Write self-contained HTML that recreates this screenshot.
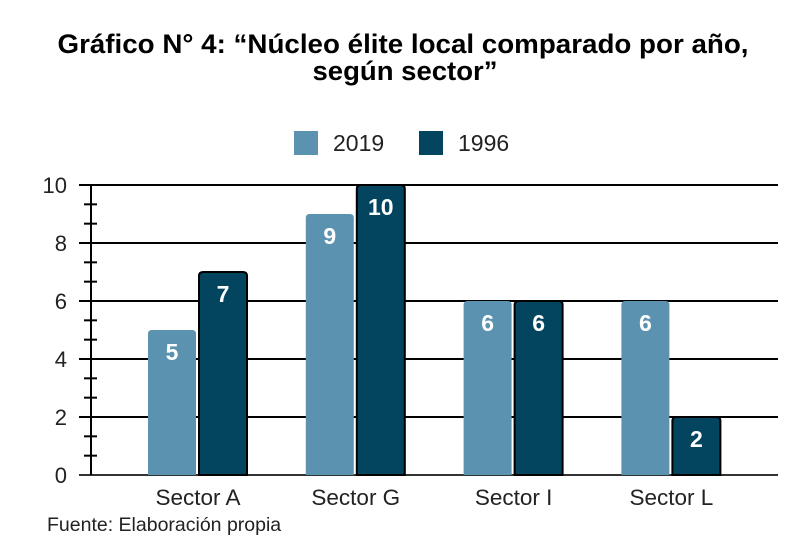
<!DOCTYPE html>
<html><head><meta charset="utf-8"><style>
body{margin:0;background:#fff;font-family:"Liberation Sans",sans-serif}
</style></head><body>
<svg width="806" height="538" viewBox="0 0 806 538" font-family="Liberation Sans, sans-serif">
<text x="403" y="53" text-anchor="middle" font-size="27" font-weight="bold" textLength="691" lengthAdjust="spacingAndGlyphs">Gráfico N° 4: “Núcleo élite local comparado por año,</text>
<text x="405" y="80" text-anchor="middle" font-size="27" font-weight="bold" textLength="185" lengthAdjust="spacingAndGlyphs">según sector”</text>
<g>
<rect x="294" y="131" width="24" height="24" fill="#5b92b0"/>
<text x="333" y="151" font-size="23" fill="#222">2019</text>
<rect x="419" y="131" width="24" height="24" fill="#03445f"/>
<text x="458" y="151" font-size="23" fill="#222">1996</text>
</g>
<g id="plot"></g>
<text x="47" y="531" font-size="19.5" fill="#222">Fuente: Elaboración propia</text>
</svg>
<script>
const categories=["Sector A","Sector G","Sector I","Sector L"];
const series2019=[5,9,6,6];
const series1996=[7,10,6,2];
const yTicks=[0,2,4,6,8,10];
const NS="http://www.w3.org/2000/svg";
const g=document.getElementById('plot');
const y0=475,y1=185,yMax=10;
const y=v=>y0-(v/yMax)*(y0-y1);
const cx=i=>198+i*157.8;
function mk(t,a,txt){const e=document.createElementNS(NS,t);for(const k in a)e.setAttribute(k,a[k]);if(txt!==undefined)e.textContent=txt;g.appendChild(e);return e;}
yTicks.forEach(v=>{
 const l=mk('line',{x1:79,x2:778,y1:y(v),y2:y(v),stroke:v===0?'#333':'#000','stroke-width':2});
 
 
 const t=mk('text',{x:67,y:y(v)+8,'text-anchor':'end','font-size':22,fill:'#222'},v);
 
 
});
for(let k=1;k<15;k++){if(k%3===0)continue;const v=k*2/3;
 const l=mk('line',{x1:84,x2:97,y1:y(v),y2:y(v),stroke:'#000','stroke-width':2});
 
 
}
const ax=mk('line',{x1:91,x2:91,y1:y1,y2:y0,stroke:'#000','stroke-width':2});


function bar(x,v,fill,stroke,name){
 const top=y(v),w=48,r=4;
 const d=`M${x},${y0}V${top+r}Q${x},${top} ${x+r},${top}H${x+w-r}Q${x+w},${top} ${x+w},${top+r}V${y0}Z`;
 const p=mk('path',{d,fill,stroke:stroke||'none','stroke-width':2});
 
 
 const t=mk('text',{x:x+w/2,y:top+30,'text-anchor':'middle','font-size':23,'font-weight':'bold',fill:'#fff'},v);
 
 
}
categories.forEach((c,i)=>{
 bar(cx(i)-50,series2019[i],'#5b92b0',null,'bar-2019-'+i);
 bar(cx(i)+1,series1996[i],'#03445f','#000','bar-1996-'+i);
 const t=mk('text',{x:cx(i),y:505,'text-anchor':'middle','font-size':22.5,fill:'#222'},c);
 
 
});
</script>
</body></html>
